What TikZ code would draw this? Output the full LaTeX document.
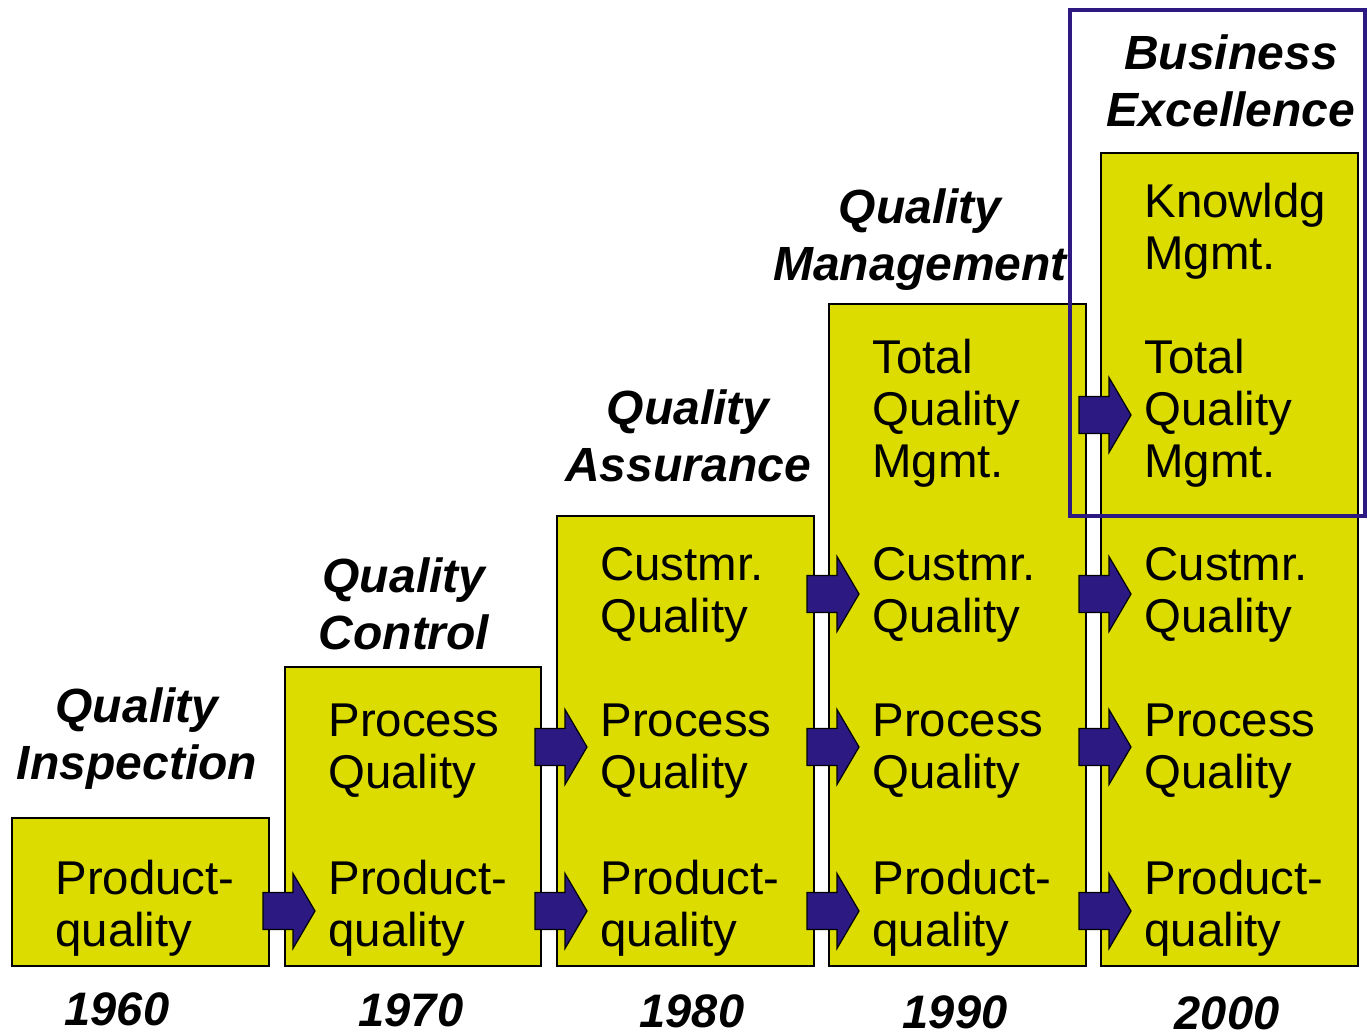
\documentclass[tikz,border=0pt]{standalone}
\usepackage{fontspec}
\setmainfont{Liberation Sans}
\definecolor{boxyellow}{HTML}{DCDC00}
\definecolor{navy}{HTML}{2C1A82}
\tikzset{
  box/.style={draw=black, line width=1pt, fill=boxyellow},
  lbl/.style={anchor=west, align=left, inner sep=0pt, font=\fontsize{23.7}{26}\selectfont},
  ttl/.style={align=center, inner sep=0pt, font=\fontsize{24}{28.5}\selectfont\bfseries\itshape},
  yr/.style={inner sep=0pt, font=\fontsize{23.5}{26}\selectfont\bfseries\itshape},
  arr/.style={draw=black, line width=0.6pt, fill=navy},
}
\newcommand\blockarrow[2]{\draw[arr] (#1-52,#2-18.5) -- (#1-22,#2-18.5) -- (#1-22,#2-37.5) -- (#1,#2) -- (#1-22,#2+37.5) -- (#1-22,#2+18.5) -- (#1-52,#2+18.5) -- cycle;}
\begin{document}
\begin{tikzpicture}[x=0.5pt,y=-0.5pt]
\useasboundingbox (0,0) rectangle (1368,1033);
% boxes
\draw[box] (12,818) rectangle (269,966);
\draw[box] (285,667) rectangle (541,966);
\draw[box] (557,516) rectangle (814,966);
\draw[box] (829,304) rectangle (1086,966);
\draw[box] (1101,153) rectangle (1358,966);
% arrows
\blockarrow{315}{911}
\blockarrow{587}{911}
\blockarrow{859}{911}
\blockarrow{1131}{911}
\blockarrow{587}{747}
\blockarrow{859}{747}
\blockarrow{1131}{747}
\blockarrow{859}{594}
\blockarrow{1131}{594}
\blockarrow{1131}{415}
% labels
\node[lbl] (p1) at (55,908) {Product-\\quality};
\node[lbl] (p2) at (328,908) {Product-\\quality};
\node[lbl] (p3) at (600,908) {Product-\\quality};
\node[lbl] (p4) at (872,908) {Product-\\quality};
\node[lbl] (p5) at (1144,908) {Product-\\quality};
\node[lbl] (q2) at (328,751) {Process\\Quality};
\node[lbl] (q3) at (600,751) {Process\\Quality};
\node[lbl] (q4) at (872,751) {Process\\Quality};
\node[lbl] (q5) at (1144,751) {Process\\Quality};
\node[lbl] (c3) at (600,595) {Custmr.\\Quality};
\node[lbl] (c4) at (872,595) {Custmr.\\Quality};
\node[lbl] (c5) at (1144,595) {Custmr.\\Quality};
\node[lbl] (t4) at (872,413) {Total\\Quality\\Mgmt.};
\node[lbl] (t5) at (1144,413) {Total\\Quality\\Mgmt.};
\node[lbl] (k5) at (1144,231) {Knowldg\\Mgmt.};
% titles
\node[ttl] (ti1) at (137,739) {Quality\\Inspection};
\node[ttl] (ti2) at (404,604) {Quality\\Control};
\node[ttl] (ti3) at (688,436) {Quality\\Assurance};
\node[ttl] (ti4) at (920,240) {Quality\\Management};
\node[ttl] (ti5) at (1231,81) {Business\\Excellence};
% years
\node[yr] (y1) at (117,1009) {1960};
\node[yr] (y2) at (411,1010) {1970};
\node[yr] (y3) at (692,1011) {1980};
\node[yr] (y4) at (955,1012) {1990};
\node[yr] (y5) at (1227,1013) {2000};
% highlight frame
\draw[navy, line width=2.2pt] (1070,10) rectangle (1365,516);
\end{tikzpicture}
\end{document}
